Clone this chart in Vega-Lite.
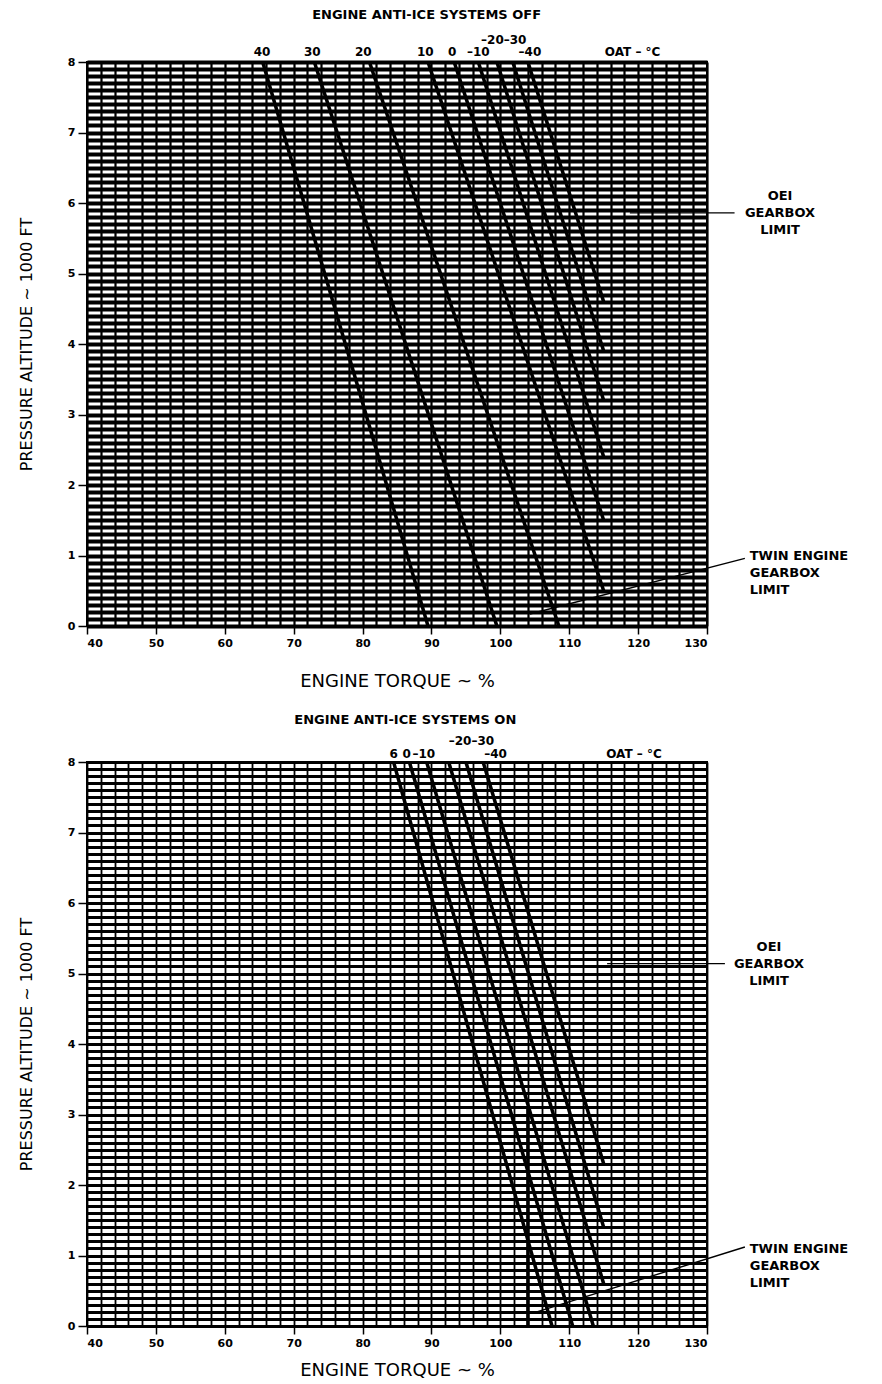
{
  "$schema": "https://vega.github.io/schema/vega-lite/v6.json",
  "background": "white",
  "padding": {"left": 17, "top": 8, "right": 5, "bottom": 5},
  "spacing": 21,
  "config": {
    "view": {"stroke": "black", "strokeWidth": 2},
    "font": "DejaVu Sans",
    "axis": {"labelFont": "DejaVu Sans", "titleFont": "DejaVu Sans"},
    "text": {"font": "DejaVu Sans", "color": "black"}
  },
  "datasets": {
    "top_lines": [
      {"oat": "40", "t1": 65.5, "a1": 8, "t2": 89.5, "a2": 0},
      {"oat": "30", "t1": 73, "a1": 8, "t2": 99.5, "a2": 0},
      {"oat": "20", "t1": 81, "a1": 8, "t2": 108.5, "a2": 0},
      {"oat": "10", "t1": 89.5, "a1": 8, "t2": 115, "a2": 0.5},
      {"oat": "0", "t1": 93.3, "a1": 8, "t2": 115, "a2": 1.5},
      {"oat": "-10", "t1": 96.8, "a1": 8, "t2": 115, "a2": 2.4},
      {"oat": "-20", "t1": 99.5, "a1": 8, "t2": 115, "a2": 3.2},
      {"oat": "-30", "t1": 101.8, "a1": 8, "t2": 115, "a2": 3.9},
      {"oat": "-40", "t1": 104, "a1": 8, "t2": 115, "a2": 4.6}
    ],
    "bottom_lines": [
      {"oat": "6", "t1": 84.5, "a1": 8, "t2": 107.5, "a2": 0},
      {"oat": "0", "t1": 86.8, "a1": 8, "t2": 110.5, "a2": 0},
      {"oat": "-10", "t1": 89.3, "a1": 8, "t2": 113.5, "a2": 0},
      {"oat": "-20", "t1": 92.5, "a1": 8, "t2": 115, "a2": 0.6},
      {"oat": "-30", "t1": 95, "a1": 8, "t2": 115, "a2": 1.4},
      {"oat": "-40", "t1": 97.5, "a1": 8, "t2": 115, "a2": 2.3},
      {"oat": "twin limit", "t1": 104, "a1": 0, "t2": 104, "a2": 3.1}
    ],
    "top_arrows": [
      {"name": "OEI", "t1": 134, "a1": 5.86, "t2": 118.8, "a2": 5.86},
      {"name": "TWIN", "t1": 135.5, "a1": 0.96, "t2": 104.3, "a2": 0.17}
    ],
    "bottom_arrows": [
      {"name": "OEI", "t1": 132.6, "a1": 5.14, "t2": 115.5, "a2": 5.14},
      {"name": "TWIN", "t1": 135.5, "a1": 1.12, "t2": 105.3, "a2": 0.2}
    ],
    "top_text": [
      {"kind": "title", "label": "ENGINE ANTI-ICE SYSTEMS OFF", "t": 89.3, "a": 8.66},
      {"kind": "oat", "label": "40", "t": 65.4, "a": 8.14},
      {"kind": "oat", "label": "30", "t": 72.7, "a": 8.14},
      {"kind": "oat", "label": "20", "t": 80.1, "a": 8.14},
      {"kind": "oat", "label": "10", "t": 89.1, "a": 8.14},
      {"kind": "oat", "label": "0", "t": 93.0, "a": 8.14},
      {"kind": "oat", "label": "–10", "t": 96.8, "a": 8.14},
      {"kind": "oat", "label": "–40", "t": 104.3, "a": 8.14},
      {"kind": "oat", "label": "–20–30", "t": 100.5, "a": 8.31},
      {"kind": "oat", "label": "OAT – °C", "t": 119.2, "a": 8.14},
      {"kind": "note", "label": "OEI\nGEARBOX\nLIMIT", "t": 140.6, "a": 6.1},
      {"kind": "noteL", "label": "TWIN ENGINE\nGEARBOX\nLIMIT", "t": 136.2, "a": 1.0}
    ],
    "bottom_text": [
      {"kind": "title", "label": "ENGINE ANTI-ICE SYSTEMS ON", "t": 86.2, "a": 8.6},
      {"kind": "oat", "label": "6", "t": 84.5, "a": 8.11},
      {"kind": "oat", "label": "0", "t": 86.4, "a": 8.11},
      {"kind": "oat", "label": "–10", "t": 88.9, "a": 8.11},
      {"kind": "oat", "label": "–40", "t": 99.3, "a": 8.11},
      {"kind": "oat", "label": "–20–30", "t": 95.8, "a": 8.3},
      {"kind": "oat", "label": "OAT – °C", "t": 119.4, "a": 8.11},
      {"kind": "note", "label": "OEI\nGEARBOX\nLIMIT", "t": 139, "a": 5.37},
      {"kind": "noteL", "label": "TWIN ENGINE\nGEARBOX\nLIMIT", "t": 136.2, "a": 1.09}
    ]
  },
  "vconcat": [
    {
      "width": 620,
      "height": 564,
      "encoding": {
        "x": {"type": "quantitative", "title": "ENGINE TORQUE ~ %", "scale": {"domain": [40, 130], "nice": false, "zero": false},
          "axis": {"values": [40,42,44,46,48,50,52,54,56,58,60,62,64,66,68,70,72,74,76,78,80,82,84,86,88,90,92,94,96,98,100,102,104,106,108,110,112,114,116,118,120,122,124,126,128,130],
            "grid": true, "gridColor": "black", "gridWidth": 2.2, "gridOpacity": 1,
            "tickColor": "black", "tickSize": 8, "tickWidth": 1.5,
            "tickOpacity": {"condition": {"test": "datum.value % 10 === 0", "value": 1}, "value": 0},
            "labelExpr": "datum.value % 10 === 0 ? datum.label : ''", "labelOverlap": false, "labelBound": false,
            "labelFontWeight": "bold", "labelFontSize": 11, "labelColor": "black", "labelPadding": 3,
            "domain": false, "titleFontSize": 18, "titleFontWeight": "normal", "titlePadding": 24, "titleColor": "black"}},
        "y": {"type": "quantitative", "title": "PRESSURE ALTITUDE ~ 1000 FT", "scale": {"domain": [0, 8], "nice": false, "zero": false},
          "axis": {"values": [0,0.1,0.2,0.3,0.4,0.5,0.6,0.7,0.8,0.9,1,1.1,1.2,1.3,1.4,1.5,1.6,1.7,1.8,1.9,2,2.1,2.2,2.3,2.4,2.5,2.6,2.7,2.8,2.9,3,3.1,3.2,3.3,3.4,3.5,3.6,3.7,3.8,3.9,4,4.1,4.2,4.3,4.4,4.5,4.6,4.7,4.8,4.9,5,5.1,5.2,5.3,5.4,5.5,5.6,5.7,5.8,5.9,6,6.1,6.2,6.3,6.4,6.5,6.6,6.7,6.8,6.9,7,7.1,7.2,7.3,7.4,7.5,7.6,7.7,7.8,7.9,8],
            "grid": true, "gridColor": "black", "gridWidth": 4.1, "gridOpacity": 1,
            "tickColor": "black", "tickSize": 9, "tickWidth": 1.5,
            "tickOpacity": {"condition": {"test": "abs(datum.value - round(datum.value)) < 0.01", "value": 1}, "value": 0},
            "labelExpr": "abs(datum.value - round(datum.value)) < 0.01 ? '' + round(datum.value) : ''", "labelOverlap": false, "labelBound": false,
            "labelFontWeight": "bold", "labelFontSize": 11, "labelColor": "black", "labelPadding": 3,
            "domain": false, "titleFontSize": 16, "titleFontWeight": "normal", "titlePadding": 33, "titleColor": "black"}}
      },
      "layer": [
        {
          "data": {"name": "top_lines"},
          "mark": {"type": "rule", "color": "black", "strokeWidth": 3.5},
          "encoding": {"x": {"field": "t1"}, "y": {"field": "a1"}, "x2": {"field": "t2"}, "y2": {"field": "a2"}}
        },
        {
          "data": {"name": "top_arrows"},
          "mark": {"type": "rule", "color": "black", "strokeWidth": 1.4},
          "encoding": {"x": {"field": "t1"}, "y": {"field": "a1"}, "x2": {"field": "t2"}, "y2": {"field": "a2"}}
        },
        {
          "data": {"name": "top_text"},
          "transform": [{"filter": "datum.kind === 'title'"}],
          "mark": {"type": "text", "fontSize": 13, "fontWeight": "bold", "align": "center", "baseline": "middle"},
          "encoding": {"x": {"field": "t"}, "y": {"field": "a"}, "text": {"field": "label"}}
        },
        {
          "data": {"name": "top_text"},
          "transform": [{"filter": "datum.kind === 'oat'"}],
          "mark": {"type": "text", "fontSize": 12, "fontWeight": "bold", "align": "center", "baseline": "middle"},
          "encoding": {"x": {"field": "t"}, "y": {"field": "a"}, "text": {"field": "label"}}
        },
        {
          "data": {"name": "top_text"},
          "transform": [{"filter": "datum.kind === 'note'"}],
          "mark": {"type": "text", "fontSize": 13, "fontWeight": "bold", "align": "center", "baseline": "middle", "lineBreak": "\n", "lineHeight": 17},
          "encoding": {"x": {"field": "t"}, "y": {"field": "a"}, "text": {"field": "label"}}
        },
        {
          "data": {"name": "top_text"},
          "transform": [{"filter": "datum.kind === 'noteL'"}],
          "mark": {"type": "text", "fontSize": 13, "fontWeight": "bold", "align": "left", "baseline": "middle", "lineBreak": "\n", "lineHeight": 17},
          "encoding": {"x": {"field": "t"}, "y": {"field": "a"}, "text": {"field": "label"}}
        }
      ]
    },
    {
      "width": 620,
      "height": 564,
      "encoding": {
        "x": {"type": "quantitative", "title": "ENGINE TORQUE ~ %", "scale": {"domain": [40, 130], "nice": false, "zero": false},
          "axis": {"values": [40,42,44,46,48,50,52,54,56,58,60,62,64,66,68,70,72,74,76,78,80,82,84,86,88,90,92,94,96,98,100,102,104,106,108,110,112,114,116,118,120,122,124,126,128,130],
            "grid": true, "gridColor": "black", "gridWidth": 1.8, "gridOpacity": 1,
            "tickColor": "black", "tickSize": 8, "tickWidth": 1.5,
            "tickOpacity": {"condition": {"test": "datum.value % 10 === 0", "value": 1}, "value": 0},
            "labelExpr": "datum.value % 10 === 0 ? datum.label : ''", "labelOverlap": false, "labelBound": false,
            "labelFontWeight": "bold", "labelFontSize": 11, "labelColor": "black", "labelPadding": 3,
            "domain": false, "titleFontSize": 18, "titleFontWeight": "normal", "titlePadding": 13, "titleColor": "black"}},
        "y": {"type": "quantitative", "title": "PRESSURE ALTITUDE ~ 1000 FT", "scale": {"domain": [0, 8], "nice": false, "zero": false},
          "axis": {"values": [0,0.1,0.2,0.3,0.4,0.5,0.6,0.7,0.8,0.9,1,1.1,1.2,1.3,1.4,1.5,1.6,1.7,1.8,1.9,2,2.1,2.2,2.3,2.4,2.5,2.6,2.7,2.8,2.9,3,3.1,3.2,3.3,3.4,3.5,3.6,3.7,3.8,3.9,4,4.1,4.2,4.3,4.4,4.5,4.6,4.7,4.8,4.9,5,5.1,5.2,5.3,5.4,5.5,5.6,5.7,5.8,5.9,6,6.1,6.2,6.3,6.4,6.5,6.6,6.7,6.8,6.9,7,7.1,7.2,7.3,7.4,7.5,7.6,7.7,7.8,7.9,8],
            "grid": true, "gridColor": "black", "gridWidth": 3.2, "gridOpacity": 1,
            "tickColor": "black", "tickSize": 9, "tickWidth": 1.5,
            "tickOpacity": {"condition": {"test": "abs(datum.value - round(datum.value)) < 0.01", "value": 1}, "value": 0},
            "labelExpr": "abs(datum.value - round(datum.value)) < 0.01 ? '' + round(datum.value) : ''", "labelOverlap": false, "labelBound": false,
            "labelFontWeight": "bold", "labelFontSize": 11, "labelColor": "black", "labelPadding": 3,
            "domain": false, "titleFontSize": 16, "titleFontWeight": "normal", "titlePadding": 33, "titleColor": "black"}}
      },
      "layer": [
        {
          "data": {"name": "bottom_lines"},
          "mark": {"type": "rule", "color": "black", "strokeWidth": 3.5},
          "encoding": {"x": {"field": "t1"}, "y": {"field": "a1"}, "x2": {"field": "t2"}, "y2": {"field": "a2"}}
        },
        {
          "data": {"name": "bottom_arrows"},
          "mark": {"type": "rule", "color": "black", "strokeWidth": 1.4},
          "encoding": {"x": {"field": "t1"}, "y": {"field": "a1"}, "x2": {"field": "t2"}, "y2": {"field": "a2"}}
        },
        {
          "data": {"name": "bottom_text"},
          "transform": [{"filter": "datum.kind === 'title'"}],
          "mark": {"type": "text", "fontSize": 13, "fontWeight": "bold", "align": "center", "baseline": "middle"},
          "encoding": {"x": {"field": "t"}, "y": {"field": "a"}, "text": {"field": "label"}}
        },
        {
          "data": {"name": "bottom_text"},
          "transform": [{"filter": "datum.kind === 'oat'"}],
          "mark": {"type": "text", "fontSize": 12, "fontWeight": "bold", "align": "center", "baseline": "middle"},
          "encoding": {"x": {"field": "t"}, "y": {"field": "a"}, "text": {"field": "label"}}
        },
        {
          "data": {"name": "bottom_text"},
          "transform": [{"filter": "datum.kind === 'note'"}],
          "mark": {"type": "text", "fontSize": 13, "fontWeight": "bold", "align": "center", "baseline": "middle", "lineBreak": "\n", "lineHeight": 17},
          "encoding": {"x": {"field": "t"}, "y": {"field": "a"}, "text": {"field": "label"}}
        },
        {
          "data": {"name": "bottom_text"},
          "transform": [{"filter": "datum.kind === 'noteL'"}],
          "mark": {"type": "text", "fontSize": 13, "fontWeight": "bold", "align": "left", "baseline": "middle", "lineBreak": "\n", "lineHeight": 17},
          "encoding": {"x": {"field": "t"}, "y": {"field": "a"}, "text": {"field": "label"}}
        }
      ]
    }
  ]
}
